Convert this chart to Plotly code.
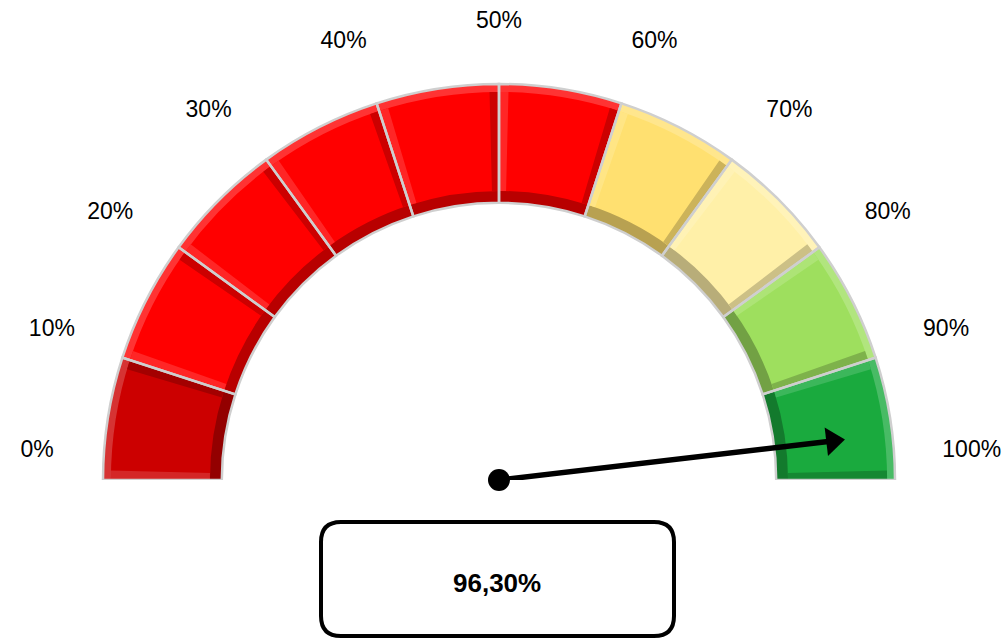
import math
import plotly.graph_objects as go

# ---------------- data ----------------
band_lo = [0, 10, 20, 30, 40, 50, 60, 70, 80, 90]
band_hi = [10, 20, 30, 40, 50, 60, 70, 80, 90, 100]
band_colors = ["#CC0000", "#FF0000", "#FF0000", "#FF0000", "#FF0000",
               "#FF0000", "#FFE070", "#FFF0A8", "#9EDF5E", "#1AAA3E"]
tick_values = [0, 10, 20, 30, 40, 50, 60, 70, 80, 90, 100]
tick_labels = ["0%", "10%", "20%", "30%", "40%", "50%", "60%", "70%", "80%", "90%", "100%"]
needle_value = 96.3
value_text = "96,30%"

# --------------- helpers ---------------
DEG_PER_PCT = 1.8
R_IN, R_OUT = 0.70, 1.0
RING_PX = 396.0  # outer ring radius in pixels
R_MAX = 1.2


def shade(hexc, f):
    h = hexc.lstrip("#")
    r, g, b = int(h[0:2], 16), int(h[2:4], 16), int(h[4:6], 16)
    if f < 1:
        r, g, b = r * f, g * f, b * f
    else:
        t = f - 1
        r, g, b = r + (255 - r) * t, g + (255 - g) * t, b + (255 - b) * t
    return "rgb(%d,%d,%d)" % (round(r), round(g), round(b))


centers = [(a + b) / 2 * DEG_PER_PCT for a, b in zip(band_lo, band_hi)]
widths = [(b - a) * DEG_PER_PCT for a, b in zip(band_lo, band_hi)]
n = len(centers)

fig = go.Figure()

# main segments
fig.add_trace(go.Barpolar(
    theta=centers, width=widths, r=[R_OUT - R_IN] * n, base=[R_IN] * n,
    marker=dict(color=band_colors, line=dict(width=0)), hoverinfo="skip"))

# bevel: inner dark strip
fig.add_trace(go.Barpolar(
    theta=centers, width=widths, r=[0.03] * n, base=[R_IN] * n,
    marker=dict(color=[shade(c, 0.72) for c in band_colors], line=dict(width=0)), hoverinfo="skip"))
# bevel: outer light strip
fig.add_trace(go.Barpolar(
    theta=centers, width=widths, r=[0.02] * n, base=[R_OUT - 0.02] * n,
    marker=dict(color=[shade(c, 1.2) for c in band_colors], line=dict(width=0)), hoverinfo="skip"))
# bevel: side strips (low side light, high side dark)
side_w = 1.4
fig.add_trace(go.Barpolar(
    theta=[c - w / 2 + side_w / 2 for c, w in zip(centers, widths)], width=[side_w] * n,
    r=[R_OUT - R_IN - 0.05] * n, base=[R_IN + 0.03] * n,
    marker=dict(color=[shade(c, 1.15) for c in band_colors], line=dict(width=0)), hoverinfo="skip"))
fig.add_trace(go.Barpolar(
    theta=[c + w / 2 - side_w / 2 for c, w in zip(centers, widths)], width=[side_w] * n,
    r=[R_OUT - R_IN - 0.05] * n, base=[R_IN + 0.03] * n,
    marker=dict(color=[shade(c, 0.8) for c in band_colors], line=dict(width=0)), hoverinfo="skip"))

# outlines / separators
fig.add_trace(go.Barpolar(
    theta=centers, width=widths, r=[R_OUT - R_IN] * n, base=[R_IN] * n,
    marker=dict(color="rgba(0,0,0,0)", line=dict(color="#CFCFCF", width=2.5)), hoverinfo="skip"))

# tick labels around the gauge (outside-end style: box edge sits at a fixed distance)
lab_theta = [3.5 + v * 1.73 - 3.8 * math.sin(2 * math.pi * v / 100) for v in tick_values]
lab_r = []
for lab, th in zip(tick_labels, lab_theta):
    hw = 7.1 * len(lab) + 1.0
    hh = 11.0
    a = math.radians(th)
    lab_r.append(min((447 + hw * abs(math.cos(a)) + hh * abs(math.sin(a))) / RING_PX, R_MAX - 0.004))
fig.add_trace(go.Scatterpolar(
    r=lab_r, theta=lab_theta, mode="text", text=tick_labels,
    textposition="middle center", cliponaxis=False,
    textfont=dict(family="Liberation Sans, Arial, sans-serif", size=23, color="#000000"),
    hoverinfo="skip"))

# needle
t = needle_value * DEG_PER_PCT
fig.add_trace(go.Scatterpolar(
    r=[0, 0.848], theta=[t, t], mode="lines", cliponaxis=False,
    line=dict(color="#000000", width=5.5), hoverinfo="skip"))
fig.add_trace(go.Scatterpolar(
    r=[0.848], theta=[t], mode="markers", cliponaxis=False,
    marker=dict(symbol="triangle-right", size=25, color="#000000", opacity=1,
                angle=t - 180, line=dict(width=0)),
    hoverinfo="skip"))
fig.add_trace(go.Scatterpolar(
    r=[0], theta=[t], mode="markers", cliponaxis=False,
    marker=dict(symbol="circle", size=22, color="#000000", opacity=1, line=dict(width=0)),
    hoverinfo="skip"))

W, H = 1005, 639
cx, cy, R_px = 499, 480, RING_PX * R_MAX

fig.update_layout(
    width=W, height=H, showlegend=False,
    paper_bgcolor="white", plot_bgcolor="white",
    margin=dict(l=0, r=0, t=0, b=0),
    polar=dict(
        domain=dict(x=[(cx - R_px) / W, (cx + R_px) / W], y=[1 - cy / H, 1 - (cy - R_px) / H]),
        sector=[0, 180], hole=0, bgcolor="white",
        radialaxis=dict(range=[0, R_MAX], visible=False),
        angularaxis=dict(rotation=180, direction="clockwise", visible=False,
                         showgrid=False, showline=False, ticks=""),
        barmode="overlay"),
)

# value box
x0, x1, y0, y1, rr = 321, 674, 522, 636, 20


def px(x):
    return x / W


def py(y):
    return 1 - y / H


path = (f"M {px(x0 + rr)},{py(y0)} L {px(x1 - rr)},{py(y0)} Q {px(x1)},{py(y0)} {px(x1)},{py(y0 + rr)} "
        f"L {px(x1)},{py(y1 - rr)} Q {px(x1)},{py(y1)} {px(x1 - rr)},{py(y1)} "
        f"L {px(x0 + rr)},{py(y1)} Q {px(x0)},{py(y1)} {px(x0)},{py(y1 - rr)} "
        f"L {px(x0)},{py(y0 + rr)} Q {px(x0)},{py(y0)} {px(x0 + rr)},{py(y0)} Z")
fig.add_shape(type="path", path=path, xref="paper", yref="paper",
              line=dict(color="#000000", width=4), fillcolor="white")
fig.add_annotation(x=px(497), y=py(583), xref="paper", yref="paper", text="<b>%s</b>" % value_text,
                   xanchor="center", yanchor="middle", showarrow=False,
                   font=dict(family="Liberation Sans, Arial, sans-serif", size=26, color="#000000"))

fig.write_html("out.html", config={"displayModeBar": False},
               post_script="document.body.style.margin='0';document.body.style.overflow='hidden';")
